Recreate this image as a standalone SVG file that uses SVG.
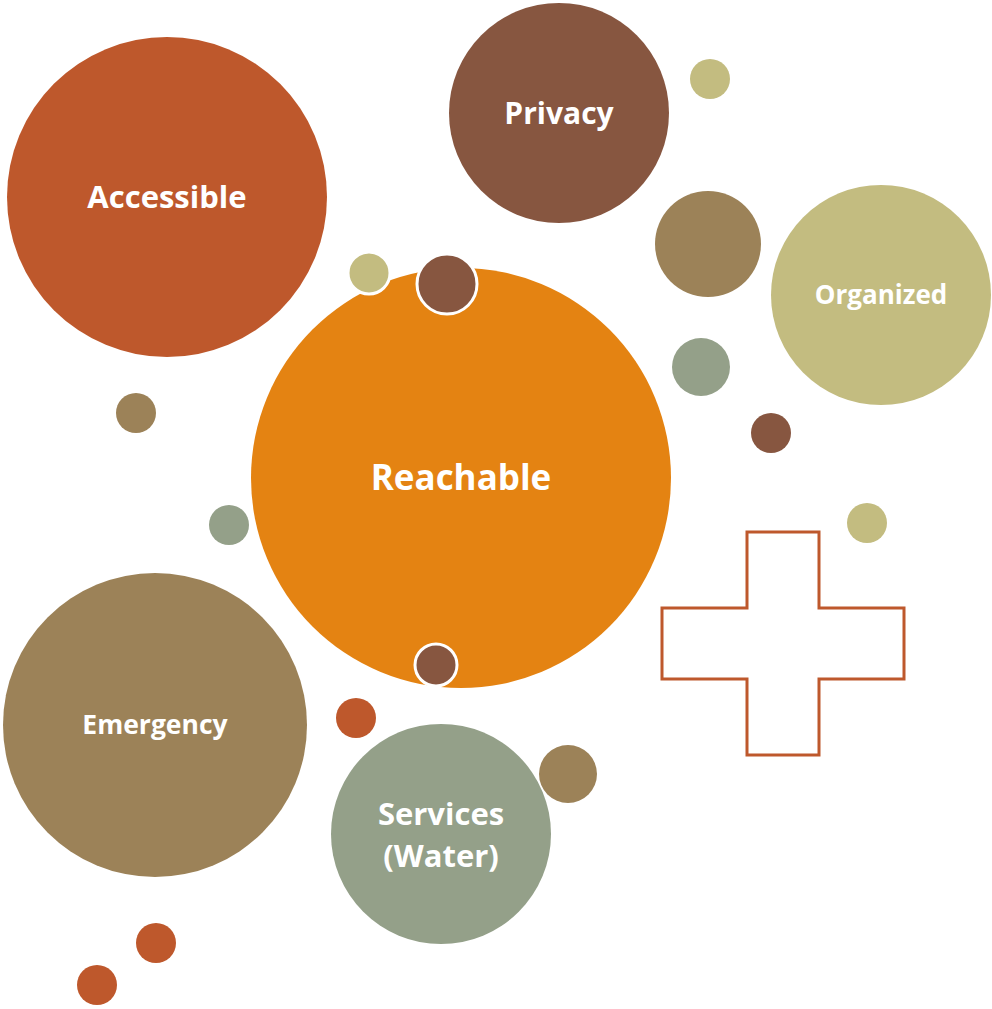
<svg xmlns="http://www.w3.org/2000/svg" width="992" height="1009" viewBox="0 0 992 1009">
<style>
.lbl{font-family:"Open Sans","Liberation Sans",sans-serif;font-weight:bold;fill:#fff;text-anchor:middle}
.rust{fill:#BE582C}.brown{fill:#875640}.khaki{fill:#C3BC80}.tan{fill:#9C8258}.sage{fill:#94A089}.orange{fill:#E48312}
.ring{stroke:#fff;stroke-width:3}
</style>
<rect width="992" height="1009" fill="#fff"/>
<g id="accessible"><circle class="rust" cx="167" cy="197" r="160"/><text class="lbl" x="167" y="208" font-size="31">Accessible</text></g>
<g id="privacy"><circle class="brown" cx="559" cy="113" r="110"/><text class="lbl" x="559" y="124" font-size="30">Privacy</text></g>
<g id="organized"><circle class="khaki" cx="881" cy="295" r="110"/><text class="lbl" x="881" y="304" font-size="26">Organized</text></g>
<g id="reachable"><circle class="orange" cx="461" cy="478" r="210"/><text class="lbl" x="461" y="490" font-size="35">Reachable</text></g>
<g id="emergency"><circle class="tan" cx="155" cy="725" r="152"/><text class="lbl" x="155" y="734" font-size="26.5">Emergency</text></g>
<g id="services"><circle class="sage" cx="441" cy="834" r="110"/><text class="lbl" x="441" y="825" font-size="31">Services</text><text class="lbl" x="441" y="867" font-size="31">(Water)</text></g>
<g id="dots">
<circle class="khaki" cx="710" cy="79" r="20"/>
<circle class="tan" cx="708" cy="244" r="53"/>
<circle class="sage" cx="701" cy="367" r="29"/>
<circle class="brown" cx="771" cy="433" r="20"/>
<circle class="khaki" cx="867" cy="523" r="20"/>
<circle class="khaki ring" cx="369" cy="273" r="21"/>
<circle class="brown ring" cx="447" cy="284" r="30"/>
<circle class="brown ring" cx="436" cy="665" r="21"/>
<circle class="tan" cx="136" cy="413" r="20"/>
<circle class="sage" cx="229" cy="525" r="20"/>
<circle class="rust" cx="356" cy="718" r="20"/>
<circle class="tan" cx="568" cy="774" r="29"/>
<circle class="rust" cx="156" cy="943" r="20"/>
<circle class="rust" cx="97" cy="985" r="20"/>
</g>
<g id="cross"><path d="M747 532H819V608H904V679H819V755H747V679H662V608H747Z" fill="#fff" stroke="#BE582C" stroke-width="3"/></g>
<g id="connectors"></g>
</svg>
